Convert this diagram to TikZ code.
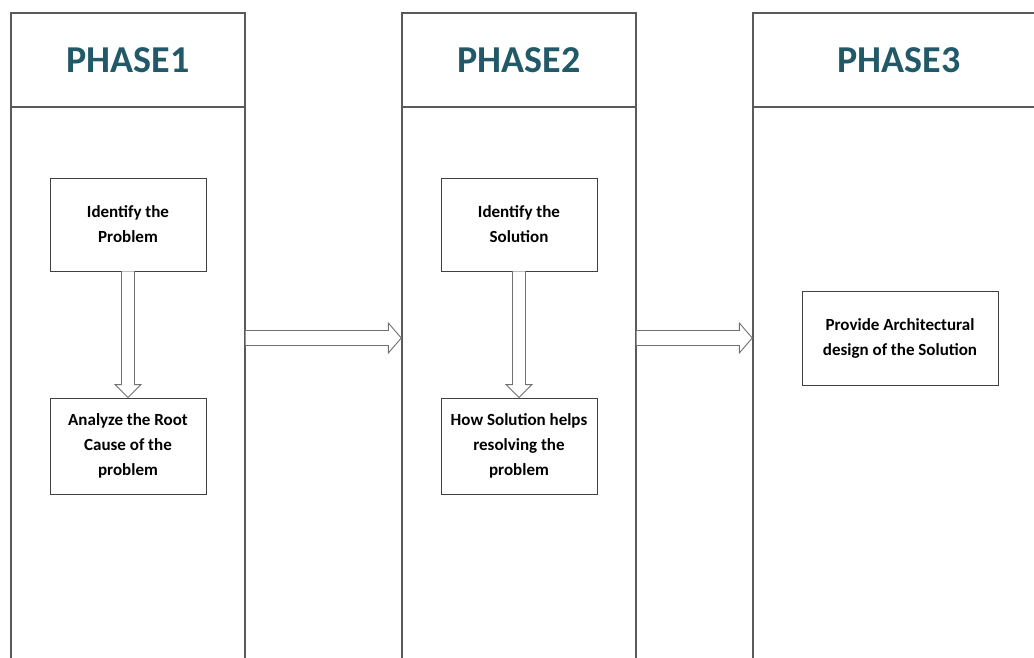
\documentclass[tikz,border=0pt]{standalone}
\usepackage{fontspec}
\setmainfont{Carlito}
\usetikzlibrary{calc}
\definecolor{phaseteal}{HTML}{215968}
\definecolor{framegray}{HTML}{5A5A5A}
\definecolor{arrowgray}{HTML}{707070}
\tikzset{
  lane/.style={draw=framegray, line width=1.4pt, minimum height=650pt, inner sep=0pt},
  lanehead/.style={draw=framegray, line width=1.4pt, minimum height=94pt, inner sep=0pt,
    font=\bfseries\fontsize{38}{40}\selectfont, text=phaseteal},
  stepbox/.style={draw=black!75, line width=0.9pt, align=center, inner sep=0pt,
    font=\bfseries\fontsize{17}{25}\selectfont},
  blockarrow/.style={draw=arrowgray, fill=white, line width=0.9pt, line join=miter},
}
% vertical block arrow between two boxes: #1 upper box, #2 lower box
\newcommand{\downblock}[2]{%
  \draw[blockarrow]
    ($(#1.south)+(-6.5,0)$) -- ($(#2.north)+(-6.5,-13)$) -- ($(#2.north)+(-13,-13)$)
    -- (#2.north) -- ($(#2.north)+(13,-13)$) -- ($(#2.north)+(6.5,-13)$)
    -- ($(#1.south)+(6.5,0)$);}
% horizontal block arrow from the right side of #1 to the left side of #2
\newcommand{\rightblock}[2]{%
  \draw[blockarrow]
    ($(#1.east)+(0,-7.5)$) -- ($(#2.west)+(-13,-7.5)$) -- ($(#2.west)+(-13,-15)$)
    -- (#2.west) -- ($(#2.west)+(-13,15)$) -- ($(#2.west)+(-13,7.5)$)
    -- ($(#1.east)+(0,7.5)$);}
\begin{document}
\begin{tikzpicture}[x=1pt,y=-1pt]
  \useasboundingbox (0,0) rectangle (1034,657);
  \clip (0,0) rectangle (1034,657);
  \fill[white] (0,0) rectangle (1034,657);

  % three swim lanes
  \node[lane, minimum width=234pt] (c1) at (128,338) {};
  \node[lane, minimum width=234pt] (c2) at (519,338) {};
  \node[lane, minimum width=292pt] (c3) at (899,338) {};

  % lane headers
  \node[lanehead, minimum width=234pt, anchor=north] (h1) at (c1.north) {PHASE1};
  \node[lanehead, minimum width=234pt, anchor=north] (h2) at (c2.north) {PHASE2};
  \node[lanehead, minimum width=292pt, anchor=north] (h3) at (c3.north) {PHASE3};

  % phase 1 steps
  \node[stepbox, minimum width=156pt, minimum height=93pt] (p1a) at (128,224.5)
    {Identify the\\Problem};
  \node[stepbox, minimum width=156pt, minimum height=96pt] (p1b) at (128,446)
    {Analyze the Root\\Cause of the\\problem};

  % phase 2 steps
  \node[stepbox, minimum width=156pt, minimum height=93pt] (p2a) at (519,224.5)
    {Identify the\\Solution};
  \node[stepbox, minimum width=156pt, minimum height=96pt] (p2b) at (519,446)
    {How Solution helps\\resolving the\\problem};

  % phase 3 step
  \node[stepbox, minimum width=196pt, minimum height=94pt] (p3) at (900,338)
    {Provide Architectural\\design of the Solution};

  % flow arrows
  \downblock{p1a}{p1b}
  \downblock{p2a}{p2b}
  \rightblock{c1}{c2}
  \rightblock{c2}{c3}
\end{tikzpicture}
\end{document}
